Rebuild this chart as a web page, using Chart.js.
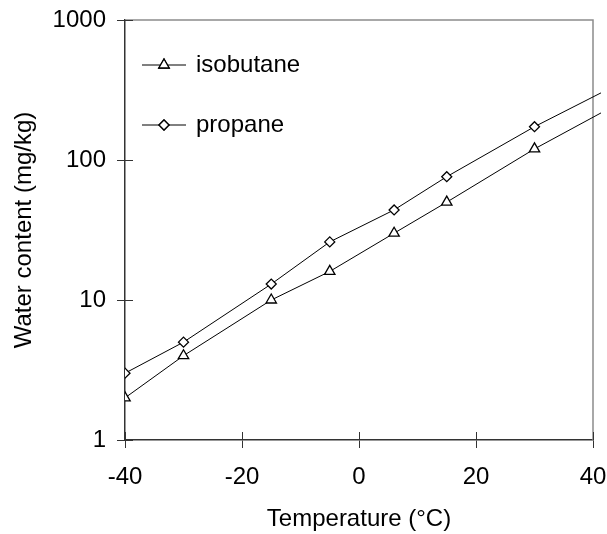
<!DOCTYPE html>
<html>
<head>
<meta charset="utf-8">
<script src="https://cdn.jsdelivr.net/npm/chart.js@4.4.1/dist/chart.umd.min.js"></script>
<style>
  html, body { margin: 0; padding: 0; background: #fff; }
  #wrap { width: 607px; height: 534px; }
</style>
</head>
<body>
<div id="wrap"><canvas id="chart"></canvas></div>
<script>
// data
const temps = [-40, -30, -15, -5, 6, 15, 30, 50];
const isobutane = [2, 4, 10, 16, 30, 50, 120, 340];
const propane = [3, 5, 13, 26, 44, 76, 173, 460];
const xTicks = [-40, -20, 0, 20, 40];
const yTicks = [1, 10, 100, 1000];

const FONT = "'Liberation Sans', Arial, sans-serif";

function toPoints(ys) {
    return temps.map((t, i) => ({ x: t, y: ys[i] }));
}

// ticks crossing the axes + top/right frame + legend inside the plot
const framePlugin = {
    id: "frame",
    beforeDatasetsDraw(chart) {
        const { ctx, chartArea: a, scales } = chart;
        ctx.save();
        ctx.strokeStyle = "#8c8c8c";
        ctx.lineWidth = 1.5;
        ctx.beginPath();
        ctx.moveTo(a.left, a.top);
        ctx.lineTo(a.right, a.top);
        ctx.lineTo(a.right, a.bottom);
        ctx.stroke();

        ctx.strokeStyle = "#333";
        ctx.lineWidth = 1;
        ctx.beginPath();
        yTicks.forEach(v => {
            const y = Math.round(scales.y.getPixelForValue(v)) + 0.5;
            ctx.moveTo(a.left, y);
            ctx.lineTo(a.left + 8, y);
        });
        xTicks.forEach(v => {
            const x = Math.round(scales.x.getPixelForValue(v)) + 0.5;
            ctx.moveTo(x, a.bottom);
            ctx.lineTo(x, a.bottom - 8);
        });
        ctx.stroke();
        ctx.restore();
    },
    afterDraw(chart) {
        const { ctx, chartArea: a } = chart;
        ctx.save();
        chart.data.datasets.forEach((ds, i) => {
            const y = a.top + 45 + i * 60;
            const x0 = a.left + 17;
            ctx.strokeStyle = "#000";
            ctx.lineWidth = 1;
            ctx.beginPath();
            ctx.moveTo(x0, y);
            ctx.lineTo(x0 + 44, y);
            ctx.stroke();
            ctx.fillStyle = "#fff";
            ctx.lineWidth = 1.3;
            Chart.helpers.drawPoint(ctx, {
                pointStyle: ds.pointStyle,
                radius: ds.pointRadius,
                borderWidth: 1.3
            }, x0 + 22, y);
            ctx.fill();
            ctx.stroke();
            ctx.fillStyle = "#000";
            ctx.font = "24px " + FONT;
            ctx.textBaseline = "middle";
            ctx.fillText(ds.label, x0 + 54, y);
        });
        ctx.restore();
    }
};

new Chart(document.getElementById("chart"), {
    type: "scatter",
    data: {
        datasets: [
            {
                label: "isobutane",
                data: toPoints(isobutane),
                showLine: true,
                borderColor: "#000",
                borderWidth: 1,
                pointStyle: "triangle",
                pointRadius: 6,
                pointBorderWidth: 1.3,
                pointBackgroundColor: "#fff",
                pointBorderColor: "#000",
                clip: { left: 0, top: 0, right: 8, bottom: 0 }
            },
            {
                label: "propane",
                data: toPoints(propane),
                showLine: true,
                borderColor: "#000",
                borderWidth: 1,
                pointStyle: "rectRot",
                pointRadius: 5,
                pointBorderWidth: 1.3,
                pointBackgroundColor: "#fff",
                pointBorderColor: "#000",
                clip: { left: 0, top: 0, right: 8, bottom: 0 }
            }
        ]
    },
    options: {
        responsive: true,
        maintainAspectRatio: false,
        animation: false,
        layout: { padding: { top: 20, right: 14, left: 0, bottom: 0 } },
        plugins: {
            legend: { display: false },
            tooltip: { enabled: false }
        },
        scales: {
            x: {
                type: "linear",
                min: -40,
                max: 40,
                afterBuildTicks: s => { s.ticks = xTicks.map(v => ({ value: v })); },
                afterFit: s => {
                    s.height = 94;
                    s.paddingLeft = 0;
                    s.paddingRight = 0;
                },
                border: { color: "#333", width: 1.5 },
                grid: { drawOnChartArea: false, color: "#333", tickLength: 8 },
                ticks: {
                    color: "#000",
                    font: { family: FONT, size: 24 },
                    padding: 15,
                    maxRotation: 0
                },
                title: {
                    display: true,
                    text: "Temperature (°C)",
                    color: "#000",
                    font: { family: FONT, size: 24 },
                    padding: { top: 0, bottom: 0 }
                }
            },
            y: {
                type: "logarithmic",
                min: 1,
                max: 1000,
                afterBuildTicks: s => { s.ticks = yTicks.map(v => ({ value: v })); },
                afterFit: s => {
                    s.width = 125;
                    s.paddingTop = 0;
                    s.paddingBottom = 0;
                },
                border: { color: "#333", width: 1.5 },
                grid: { drawOnChartArea: false, color: "#333", tickLength: 8 },
                ticks: {
                    color: "#000",
                    font: { family: FONT, size: 24 },
                    padding: 11,
                    callback: v => String(v)
                },
                title: {
                    display: true,
                    text: "Water content (mg/kg)",
                    color: "#000",
                    font: { family: FONT, size: 24 },
                    padding: { top: 10, bottom: 0 }
                }
            }
        }
    },
    plugins: [framePlugin]
});
</script>
</body>
</html>
